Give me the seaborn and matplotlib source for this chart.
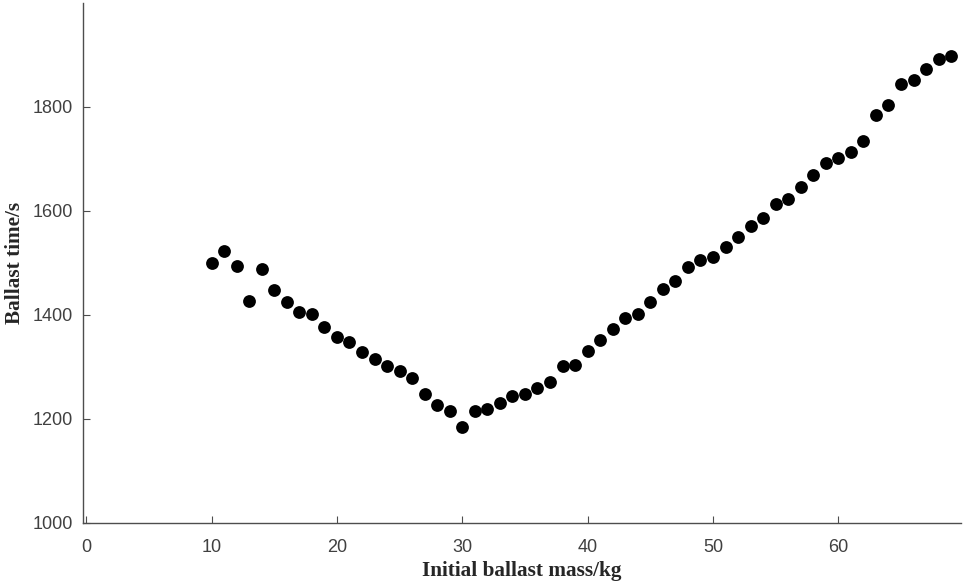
import numpy as np
import pandas as pd
import matplotlib
matplotlib.use("Agg")
import matplotlib.pyplot as plt
import seaborn as sns

# Data
mass_kg = list(range(10, 70))
ballast_time = [
    1500, 1523, 1493, 1427, 1488, 1448, 1424, 1405, 1402, 1377,
    1358, 1348, 1328, 1315, 1302, 1292, 1278, 1248, 1227, 1215,
    1184, 1214, 1219, 1230, 1243, 1248, 1260, 1271, 1302, 1303,
    1331, 1352, 1373, 1393, 1402, 1425, 1450, 1465, 1492, 1505,
    1511, 1530, 1550, 1571, 1587, 1613, 1623, 1645, 1668, 1693,
    1702, 1713, 1735, 1785, 1803, 1844, 1852, 1873, 1892, 1897,
]
x_ticks = [0, 10, 20, 30, 40, 50, 60]
y_ticks = [1000, 1200, 1400, 1600, 1800]

df = pd.DataFrame({"mass": mass_kg, "time": ballast_time})

sns.set_style("ticks")
plt.rcParams["font.family"] = ["Liberation Sans", "DejaVu Sans"]

fig = plt.figure(figsize=(9.66, 5.86), dpi=100)
ax = fig.add_axes([0.086, 0.108, 0.909, 0.887])

sns.scatterplot(data=df, x="mass", y="time", ax=ax, color="black",
                edgecolor="black", linewidth=0, s=85, legend=False)

ax.set_xlim(-0.25, 69.8)
ax.set_ylim(1000, 2000)
ax.set_xticks(x_ticks)
ax.set_yticks(y_ticks)

sns.despine(ax=ax)
for side in ["left", "bottom"]:
    ax.spines[side].set_color("#4d4d4d")
    ax.spines[side].set_linewidth(1.0)

ax.tick_params(direction="in", length=5, width=0.8, color="#4d4d4d",
               labelsize=13, labelcolor="#404040")
ax.tick_params(axis="x", pad=12)
ax.tick_params(axis="y", pad=7)

label_font = {"family": "Liberation Serif", "weight": "bold", "size": 15.3}
ax.set_xlabel("Initial ballast mass/kg", fontdict=label_font, labelpad=3)
ax.set_ylabel("Ballast time/s", fontdict=label_font, labelpad=6)

fig.savefig("out.png", dpi=100)
plt.close(fig)
